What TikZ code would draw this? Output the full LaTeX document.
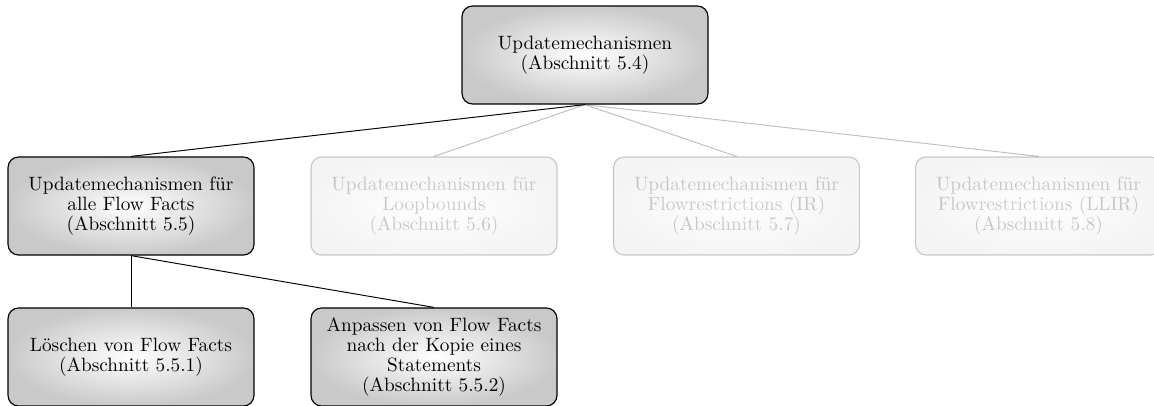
\documentclass[tikz,border=0pt]{standalone}
\begin{document}
\begin{tikzpicture}[x=0.518pt, y=-0.518pt,
  box/.style={draw=black, line width=0.6pt, rounded corners=5.5pt,
    inner color=white, outer color=black!21,
    minimum width=127.4pt, minimum height=50.8pt, inner sep=2pt,
    align=center, font=\fontsize{10}{10.4}\selectfont},
  faded/.style={box, opacity=0.2},
  link/.style={draw=black, line width=0.5pt},
  fadedlink/.style={link, draw opacity=0.25}]
\useasboundingbox (0,0) rectangle (1154,405);

\node[box] (root) at (585,55) {Updatemechanismen\\(Abschnitt 5.4)};

\node[box]    (all)  at (131,206)    {Updatemechanismen für\\alle Flow Facts\\(Abschnitt 5.5)};
\node[faded]  (loop) at (434,206)    {Updatemechanismen für\\Loopbounds\\(Abschnitt 5.6)};
\node[faded]  (ir)   at (736.5,206)  {Updatemechanismen für\\Flowrestrictions (IR)\\(Abschnitt 5.7)};
\node[faded]  (llir) at (1038.5,206) {Updatemechanismen für\\Flowrestrictions (LLIR)\\(Abschnitt 5.8)};

\node[box] (del)  at (131,357) {Löschen von Flow Facts\\(Abschnitt 5.5.1)};
\node[box] (copy) at (434,357) {Anpassen von Flow Facts\\nach der Kopie eines\\Statements\\(Abschnitt 5.5.2)};

\draw[link] (root.south) -- (all.north);
\draw[fadedlink] (root.south) -- (loop.north);
\draw[fadedlink] (root.south) -- (ir.north);
\draw[fadedlink] (root.south) -- (llir.north);

\draw[link] (all.south) -- (del.north);
\draw[link] (all.south) -- (copy.north);
\end{tikzpicture}
\end{document}
